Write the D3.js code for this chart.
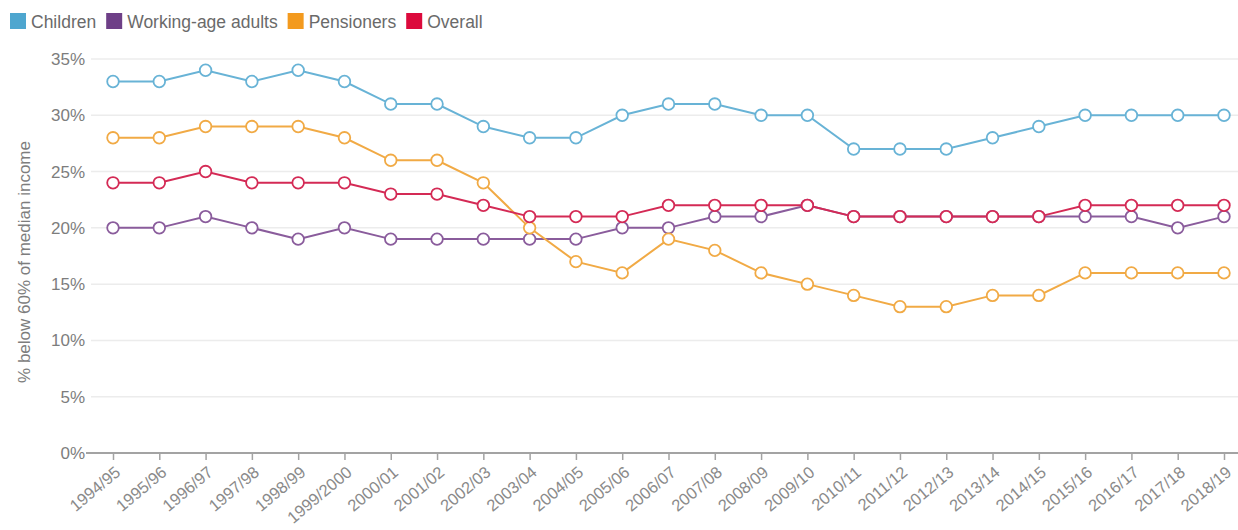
<!DOCTYPE html>
<html>
<head>
<meta charset="utf-8">
<script src="https://cdn.jsdelivr.net/npm/d3@7"></script>
<style>
body { margin: 0; background: #fff; font-family: "Liberation Sans", Arial, sans-serif; }
</style>
</head>
<body>
<script>
var years = ["1994/95","1995/96","1996/97","1997/98","1998/99","1999/2000","2000/01","2001/02","2002/03","2003/04","2004/05","2005/06","2006/07","2007/08","2008/09","2009/10","2010/11","2011/12","2012/13","2013/14","2014/15","2015/16","2016/17","2017/18","2018/19"];
var children = [33,33,34,33,34,33,31,31,29,28,28,30,31,31,30,30,27,27,27,28,29,30,30,30,30];
var workingAge = [20,20,21,20,19,20,19,19,19,19,19,20,20,21,21,22,21,21,21,21,21,21,21,20,21];
var pensioners = [28,28,29,29,29,28,26,26,24,20,17,16,19,18,16,15,14,13,13,14,14,16,16,16,16];
var overall = [24,24,25,24,24,24,23,23,22,21,21,21,22,22,22,22,21,21,21,21,21,22,22,22,22];
var yTicks = [0,5,10,15,20,25,30,35];

var series = [
    {name: "Children", values: children, swatch: "#4ea6cf", line: "#68b3d6"},
    {name: "Working-age adults", values: workingAge, swatch: "#6e3f87", line: "#8a5c9c"},
    {name: "Pensioners", values: pensioners, swatch: "#f39a1e", line: "#f1aa45"},
    {name: "Overall", values: overall, swatch: "#dc0a3c", line: "#d42a55"}
];

var width = 1238, height = 530;
var svg = d3.select("body").append("svg").attr("width", width).attr("height", height);

var x = d3.scalePoint().domain(years).range([113, 1224]);
var y = d3.scaleLinear().domain([0, 35]).range([453, 59]);

// gridlines
svg.append("g").selectAll("line").data(yTicks.slice(1)).enter().append("line")
    .attr("x1", 91).attr("x2", 1238)
    .attr("y1", function (d) { return y(d); })
    .attr("y2", function (d) { return y(d); })
    .attr("stroke", "#ececec").attr("stroke-width", 1.5);

// y labels
svg.append("g").selectAll("text").data(yTicks).enter().append("text")
    .attr("x", 85)
    .attr("y", function (d) { return y(d); })
    .attr("dy", "0.35em")
    .attr("text-anchor", "end")
    .attr("font-size", 17)
    .attr("fill", "#7d7d7d")
    .text(function (d) { return d + "%"; });

svg.append("text")
    .attr("transform", "translate(30,262) rotate(-90)")
    .attr("text-anchor", "middle")
    .attr("font-size", 17)
    .attr("fill", "#7d7d7d")
    .text("% below 60% of median income");

// x axis
var xAxis = svg.append("g").attr("transform", "translate(0,453)")
    .call(d3.axisBottom(x).tickSize(7).tickSizeOuter(0));
xAxis.select(".domain").remove();
xAxis.append("line").attr("x1", 86).attr("x2", 1238).attr("stroke", "#a3a3a3").attr("stroke-width", 2);
xAxis.selectAll(".tick line").attr("stroke", "#a3a3a3").attr("stroke-width", 1.5);
xAxis.selectAll(".tick text")
    .attr("font-family", "Liberation Sans, Arial, sans-serif")
    .attr("font-size", 16.5)
    .attr("fill", "#8a8a8a")
    .attr("text-anchor", "end")
    .attr("x", 0).attr("y", 0).attr("dy", 0)
    .attr("transform", "translate(8,21) rotate(-40)");

var line = d3.line()
    .x(function (d, i) { return x(years[i]); })
    .y(function (d) { return y(d); });

series.forEach(function (s) {
    svg.append("path").attr("d", line(s.values))
        .attr("fill", "none").attr("stroke", s.line).attr("stroke-width", 2);
});
series.forEach(function (s) {
    svg.append("g").selectAll("circle").data(s.values).enter().append("circle")
        .attr("cx", function (d, i) { return x(years[i]); })
        .attr("cy", function (d) { return y(d); })
        .attr("r", 5.8)
        .attr("fill", "#fff")
        .attr("stroke", s.line)
        .attr("stroke-width", 1.8);
});

// legend
var lx = 10;
var legend = svg.append("g");
series.forEach(function (s) {
    legend.append("rect").attr("x", lx).attr("y", 13).attr("width", 16).attr("height", 16).attr("fill", s.swatch);
    var t = legend.append("text").attr("x", lx + 21).attr("y", 28)
        .attr("font-size", 17.5).attr("fill", "#6a6a6a").text(s.name);
    lx += 21 + t.node().getComputedTextLength() + 10;
});
</script>
</body>
</html>
